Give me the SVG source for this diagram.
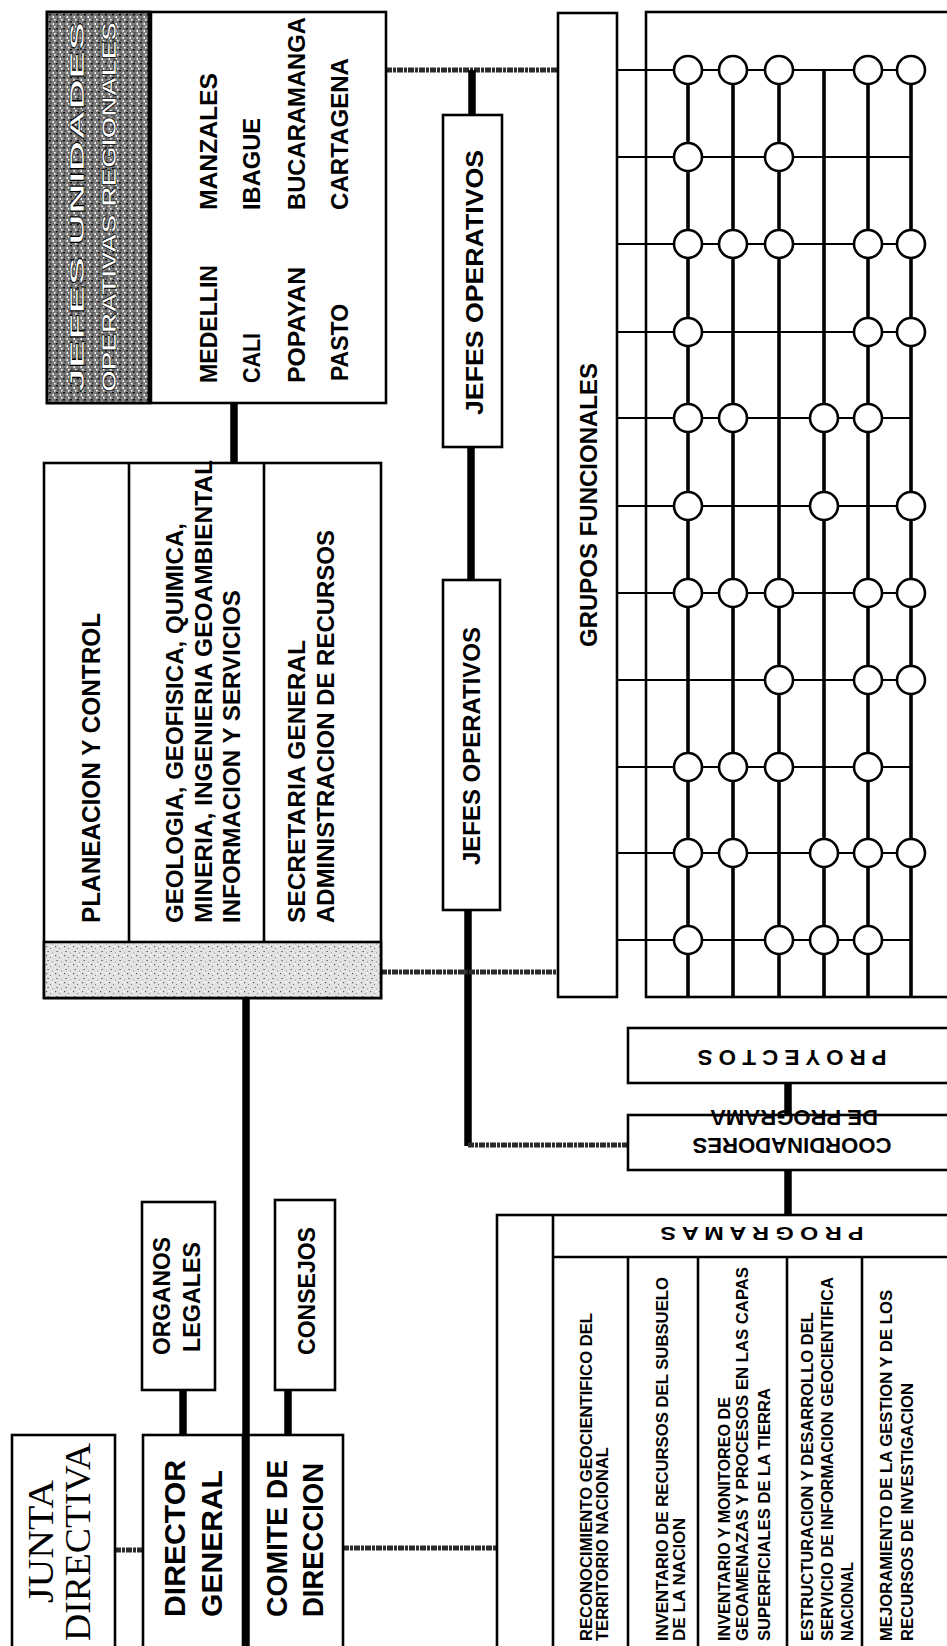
<svg xmlns="http://www.w3.org/2000/svg" width="947" height="1646" viewBox="0 0 947 1646">
<style>
.box{fill:#fff;stroke:#000;stroke-width:2.6}
.ln{stroke:#000;stroke-width:2.6;fill:none}
.thick{stroke:#000;stroke-width:7.5;fill:none}
.stip{stroke:#2a2a2a;stroke-width:5;fill:none;stroke-dasharray:6 1 3 1}
.row{stroke:#000;stroke-width:2;fill:none}
.col{stroke:#000;stroke-width:3.6;fill:none}
.dot{fill:#fff;stroke:#000;stroke-width:2.6}
.t{font-family:"Liberation Sans",Arial,sans-serif;font-weight:bold;fill:#000}
.s{font-family:"Liberation Serif","Times New Roman",serif;fill:#000}
.w{font-family:"Liberation Sans",Arial,sans-serif;font-weight:bold;fill:#fff;stroke:#000;stroke-width:0.6}
</style>
<defs>
<pattern id="dk" width="7" height="7" patternUnits="userSpaceOnUse">
<rect width="7" height="7" fill="#7a7a7a"/>
<rect x="0" y="0" width="2" height="1.5" fill="#111"/>
<rect x="3.5" y="2" width="1.5" height="2" fill="#f4f4f4"/>
<rect x="1" y="4.5" width="1.5" height="1" fill="#1a1a1a"/>
<rect x="5" y="5" width="1.5" height="1.5" fill="#fff"/>
<rect x="5.5" y="0.5" width="1" height="1" fill="#333"/>
</pattern>
<pattern id="lt" width="9" height="9" patternUnits="userSpaceOnUse">
<rect width="9" height="9" fill="#e2e2e2"/>
<rect x="1" y="1" width="1.2" height="1.2" fill="#555"/>
<rect x="5" y="3" width="1" height="1" fill="#777"/>
<rect x="2.5" y="6" width="1.2" height="1" fill="#444"/>
<rect x="7" y="7.5" width="1" height="1" fill="#888"/>
<rect x="6.5" y="0.5" width="1.5" height="1.5" fill="#fff"/>
</pattern>
</defs>
<rect width="947" height="1646" fill="#fff"/>

<g id="connectors">
<line class="stip" x1="386" y1="70" x2="558" y2="70"/>
<line class="thick" x1="472" y1="70" x2="472" y2="115"/>
<line class="thick" x1="471" y1="447" x2="471" y2="580"/>
<line class="thick" x1="468" y1="910" x2="468" y2="1146"/>
<line class="stip" x1="381" y1="972" x2="558" y2="972"/>
<line class="stip" x1="468" y1="1145" x2="628" y2="1145"/>
<line class="thick" x1="234" y1="403" x2="234" y2="463"/>
<line class="thick" x1="183" y1="1390" x2="183" y2="1435"/>
<line class="thick" x1="288" y1="1390" x2="288" y2="1435"/>
<line class="stip" x1="115" y1="1550" x2="143" y2="1550"/>
<line class="stip" x1="343" y1="1548" x2="497" y2="1548"/>
<line class="thick" x1="788" y1="1083" x2="788" y2="1115"/>
<line class="thick" x1="788" y1="1170" x2="788" y2="1215"/>
</g>

<g id="regionales">
<rect class="box" x="47" y="12" width="339" height="391"/>
<rect x="47" y="12" width="103" height="391" fill="url(#dk)" stroke="#000" stroke-width="2.6"/>
<line x1="150" y1="12" x2="150" y2="403" stroke="#000" stroke-width="4.5"/>
<text class="w" font-size="20" transform="translate(84,392) rotate(-90)" textLength="370" lengthAdjust="spacingAndGlyphs">JEFES UNIDADES</text>
<text class="w" font-size="20" transform="translate(116,392) rotate(-90)" textLength="370" lengthAdjust="spacingAndGlyphs">OPERATIVAS REGIONALES</text>
<text class="t" font-size="23" transform="translate(217,383) rotate(-90)" textLength="118" lengthAdjust="spacingAndGlyphs">MEDELLIN</text>
<text class="t" font-size="23" transform="translate(260,383) rotate(-90)" textLength="50" lengthAdjust="spacingAndGlyphs">CALI</text>
<text class="t" font-size="23" transform="translate(305,383) rotate(-90)" textLength="116" lengthAdjust="spacingAndGlyphs">POPAYAN</text>
<text class="t" font-size="23" transform="translate(348,381) rotate(-90)" textLength="77" lengthAdjust="spacingAndGlyphs">PASTO</text>
<text class="t" font-size="23" transform="translate(217,210) rotate(-90)" textLength="137" lengthAdjust="spacingAndGlyphs">MANZALES</text>
<text class="t" font-size="23" transform="translate(260,210) rotate(-90)" textLength="92" lengthAdjust="spacingAndGlyphs">IBAGUE</text>
<text class="t" font-size="23" transform="translate(305,210) rotate(-90)" textLength="193" lengthAdjust="spacingAndGlyphs">BUCARAMANGA</text>
<text class="t" font-size="23" transform="translate(348,210) rotate(-90)" textLength="152" lengthAdjust="spacingAndGlyphs">CARTAGENA</text>
</g>

<g id="jefes-operativos-1">
<rect class="box" x="443" y="115" width="59" height="332"/>
<text class="t" font-size="24" transform="translate(483,415) rotate(-90)" textLength="265" lengthAdjust="spacingAndGlyphs">JEFES OPERATIVOS</text>
</g>

<g id="jefes-operativos-2">
<rect class="box" x="443" y="580" width="57" height="330"/>
<text class="t" font-size="24" transform="translate(480,865) rotate(-90)" textLength="238" lengthAdjust="spacingAndGlyphs">JEFES OPERATIVOS</text>
</g>

<g id="grupos-funcionales">
<rect class="box" x="558" y="13" width="59" height="984"/>
<text class="t" font-size="24" transform="translate(597,647) rotate(-90)" textLength="284" lengthAdjust="spacingAndGlyphs">GRUPOS FUNCIONALES</text>
</g>

<g id="matriz">
<rect class="box" x="646" y="12" width="330" height="985"/>
<g>
<line class="row" x1="617" y1="70" x2="911" y2="70"/>
<line class="row" x1="617" y1="157" x2="911" y2="157"/>
<line class="row" x1="617" y1="244" x2="911" y2="244"/>
<line class="row" x1="617" y1="332" x2="911" y2="332"/>
<line class="row" x1="617" y1="418" x2="911" y2="418"/>
<line class="row" x1="617" y1="506" x2="911" y2="506"/>
<line class="row" x1="617" y1="593" x2="911" y2="593"/>
<line class="row" x1="617" y1="680" x2="911" y2="680"/>
<line class="row" x1="617" y1="767" x2="911" y2="767"/>
<line class="row" x1="617" y1="853" x2="911" y2="853"/>
<line class="row" x1="617" y1="940" x2="911" y2="940"/>
</g>
<g>
<line class="col" x1="688" y1="70" x2="688" y2="997"/>
<line class="col" x1="733" y1="70" x2="733" y2="997"/>
<line class="col" x1="779" y1="70" x2="779" y2="997"/>
<line class="col" x1="824" y1="70" x2="824" y2="997"/>
<line class="col" x1="868" y1="70" x2="868" y2="997"/>
<line class="col" x1="911" y1="70" x2="911" y2="997"/>
</g>
<g>
<circle class="dot" cx="688" cy="70" r="14"/><circle class="dot" cx="733" cy="70" r="14"/><circle class="dot" cx="779" cy="70" r="14"/><circle class="dot" cx="868" cy="70" r="14"/><circle class="dot" cx="911" cy="70" r="14"/>
<circle class="dot" cx="688" cy="157" r="14"/><circle class="dot" cx="779" cy="157" r="14"/>
<circle class="dot" cx="688" cy="244" r="14"/><circle class="dot" cx="733" cy="244" r="14"/><circle class="dot" cx="779" cy="244" r="14"/><circle class="dot" cx="868" cy="244" r="14"/><circle class="dot" cx="911" cy="244" r="14"/>
<circle class="dot" cx="688" cy="332" r="14"/><circle class="dot" cx="868" cy="332" r="14"/><circle class="dot" cx="911" cy="332" r="14"/>
<circle class="dot" cx="688" cy="418" r="14"/><circle class="dot" cx="733" cy="418" r="14"/><circle class="dot" cx="824" cy="418" r="14"/><circle class="dot" cx="868" cy="418" r="14"/>
<circle class="dot" cx="688" cy="506" r="14"/><circle class="dot" cx="824" cy="506" r="14"/><circle class="dot" cx="911" cy="506" r="14"/>
<circle class="dot" cx="688" cy="593" r="14"/><circle class="dot" cx="733" cy="593" r="14"/><circle class="dot" cx="779" cy="593" r="14"/><circle class="dot" cx="868" cy="593" r="14"/><circle class="dot" cx="911" cy="593" r="14"/>
<circle class="dot" cx="779" cy="680" r="14"/><circle class="dot" cx="868" cy="680" r="14"/><circle class="dot" cx="911" cy="680" r="14"/>
<circle class="dot" cx="688" cy="767" r="14"/><circle class="dot" cx="733" cy="767" r="14"/><circle class="dot" cx="779" cy="767" r="14"/><circle class="dot" cx="868" cy="767" r="14"/>
<circle class="dot" cx="688" cy="853" r="14"/><circle class="dot" cx="733" cy="853" r="14"/><circle class="dot" cx="824" cy="853" r="14"/><circle class="dot" cx="868" cy="853" r="14"/><circle class="dot" cx="911" cy="853" r="14"/>
<circle class="dot" cx="688" cy="940" r="14"/><circle class="dot" cx="779" cy="940" r="14"/><circle class="dot" cx="824" cy="940" r="14"/><circle class="dot" cx="868" cy="940" r="14"/>
</g>
</g>

<g id="direcciones">
<rect class="box" x="44" y="463" width="337" height="535"/>
<rect x="44" y="942" width="337" height="56" fill="url(#lt)" stroke="#000" stroke-width="2.6"/>
<line class="ln" x1="129" y1="463" x2="129" y2="942"/>
<line class="ln" x1="264" y1="463" x2="264" y2="942"/>
<text class="t" font-size="25" transform="translate(100,923) rotate(-90)" textLength="310" lengthAdjust="spacingAndGlyphs">PLANEACION Y CONTROL</text>
<text class="t" font-size="24" transform="translate(183,923) rotate(-90)" textLength="400" lengthAdjust="spacingAndGlyphs">GEOLOGIA, GEOFISICA, QUIMICA,</text>
<text class="t" font-size="24" transform="translate(212,923) rotate(-90)" textLength="463" lengthAdjust="spacingAndGlyphs">MINERIA, INGENIERIA GEOAMBIENTAL</text>
<text class="t" font-size="24" transform="translate(240,923) rotate(-90)" textLength="333" lengthAdjust="spacingAndGlyphs">INFORMACION Y SERVICIOS</text>
<text class="t" font-size="24" transform="translate(305,923) rotate(-90)" textLength="283" lengthAdjust="spacingAndGlyphs">SECRETARIA GENERAL</text>
<text class="t" font-size="24" transform="translate(334,923) rotate(-90)" textLength="393" lengthAdjust="spacingAndGlyphs">ADMINISTRACION DE RECURSOS</text>
</g>

<g id="proyectos">
<rect class="box" x="628" y="1028" width="340" height="55"/>
<text class="t" font-size="22" text-anchor="middle" transform="translate(792,1050) rotate(180)" textLength="189" lengthAdjust="spacingAndGlyphs">P R O Y E C T O S</text>
</g>

<g id="coordinadores">
<rect class="box" x="628" y="1115" width="340" height="55"/>
<text class="t" font-size="22" text-anchor="middle" transform="translate(792,1138) rotate(180)" textLength="199" lengthAdjust="spacingAndGlyphs">COORDINADORES</text>
<text class="t" font-size="22" text-anchor="middle" transform="translate(794,1110) rotate(180)" textLength="168" lengthAdjust="spacingAndGlyphs">DE PROGRAMA</text>
</g>

<g id="programas">
<rect class="box" x="497" y="1215" width="470" height="450"/>
<line class="ln" x1="553" y1="1215" x2="553" y2="1660"/>
<line class="ln" x1="553" y1="1257" x2="967" y2="1257"/>
<line class="ln" x1="628" y1="1257" x2="628" y2="1660"/>
<line class="ln" x1="698" y1="1257" x2="698" y2="1660"/>
<line class="ln" x1="787" y1="1257" x2="787" y2="1660"/>
<line class="ln" x1="862" y1="1257" x2="862" y2="1660"/>
<text class="t" font-size="18" text-anchor="middle" transform="translate(762,1227) rotate(180)" textLength="203" lengthAdjust="spacingAndGlyphs">P R O G R A M A S</text>
<text class="t" font-size="17" transform="translate(592,1641) rotate(-90)" textLength="328" lengthAdjust="spacingAndGlyphs">RECONOCIMIENTO GEOCIENTIFICO DEL</text>
<text class="t" font-size="17" transform="translate(608,1641) rotate(-90)" textLength="194" lengthAdjust="spacingAndGlyphs">TERRITORIO NACIONAL</text>
<text class="t" font-size="17" transform="translate(668,1641) rotate(-90)" textLength="364" lengthAdjust="spacingAndGlyphs">INVENTARIO DE RECURSOS DEL SUBSUELO</text>
<text class="t" font-size="17" transform="translate(685,1641) rotate(-90)" textLength="123" lengthAdjust="spacingAndGlyphs">DE LA NACION</text>
<text class="t" font-size="17" transform="translate(730,1641) rotate(-90)" textLength="244" lengthAdjust="spacingAndGlyphs">INVENTARIO Y MONITOREO DE</text>
<text class="t" font-size="17" transform="translate(748,1641) rotate(-90)" textLength="374" lengthAdjust="spacingAndGlyphs">GEOAMENAZAS Y PROCESOS EN LAS CAPAS</text>
<text class="t" font-size="17" transform="translate(770,1641) rotate(-90)" textLength="253" lengthAdjust="spacingAndGlyphs">SUPERFICIALES DE LA TIERRA</text>
<text class="t" font-size="17" transform="translate(813,1641) rotate(-90)" textLength="329" lengthAdjust="spacingAndGlyphs">ESTRUCTURACION Y DESARROLLO DEL</text>
<text class="t" font-size="17" transform="translate(833,1641) rotate(-90)" textLength="364" lengthAdjust="spacingAndGlyphs">SERVICIO DE INFORMACION GEOCIENTIFICA</text>
<text class="t" font-size="17" transform="translate(853,1641) rotate(-90)" textLength="79" lengthAdjust="spacingAndGlyphs">NACIONAL</text>
<text class="t" font-size="17" transform="translate(892,1641) rotate(-90)" textLength="351" lengthAdjust="spacingAndGlyphs">MEJORAMIENTO DE LA GESTION Y DE LOS</text>
<text class="t" font-size="17" transform="translate(913,1641) rotate(-90)" textLength="258" lengthAdjust="spacingAndGlyphs">RECURSOS DE INVESTIGACION</text>
</g>

<g id="organos-legales">
<rect class="box" x="142" y="1202" width="73" height="188"/>
<text class="t" font-size="23" transform="translate(170,1355) rotate(-90)" textLength="118" lengthAdjust="spacingAndGlyphs">ORGANOS</text>
<text class="t" font-size="23" transform="translate(200,1352) rotate(-90)" textLength="110" lengthAdjust="spacingAndGlyphs">LEGALES</text>
</g>

<g id="consejos">
<rect class="box" x="275" y="1200" width="60" height="190"/>
<text class="t" font-size="23" transform="translate(315,1355) rotate(-90)" textLength="128" lengthAdjust="spacingAndGlyphs">CONSEJOS</text>
</g>

<g id="junta-directiva">
<rect class="box" x="12" y="1435" width="103" height="230"/>
<text class="s" font-size="36" transform="translate(53,1603) rotate(-90)" textLength="123" lengthAdjust="spacingAndGlyphs">JUNTA</text>
<text class="s" font-size="36" transform="translate(90,1641) rotate(-90)" textLength="198" lengthAdjust="spacingAndGlyphs">DIRECTIVA</text>
</g>

<g id="director-general">
<rect class="box" x="143" y="1435" width="100" height="230"/>
<text class="t" font-size="29" transform="translate(185,1617) rotate(-90)" textLength="157" lengthAdjust="spacingAndGlyphs">DIRECTOR</text>
<text class="t" font-size="29" transform="translate(222,1617) rotate(-90)" textLength="147" lengthAdjust="spacingAndGlyphs">GENERAL</text>
</g>

<g id="comite-direccion">
<rect class="box" x="247" y="1435" width="96" height="230"/>
<text class="t" font-size="29" transform="translate(287,1617) rotate(-90)" textLength="157" lengthAdjust="spacingAndGlyphs">COMITE DE</text>
<text class="t" font-size="29" transform="translate(323,1617) rotate(-90)" textLength="154" lengthAdjust="spacingAndGlyphs">DIRECCION</text>
</g>

<g id="connector-main">
<line class="thick" x1="246" y1="998" x2="246" y2="1660"/>
</g>
</svg>
